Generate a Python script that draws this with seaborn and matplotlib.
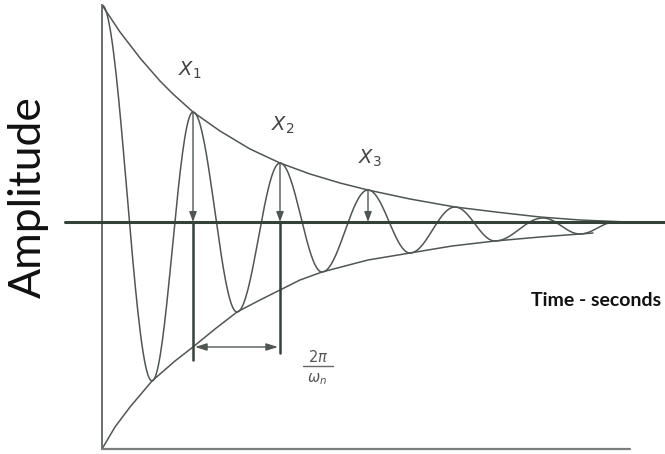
import matplotlib.pyplot as plt
import seaborn as sns
import numpy as np
import pandas as pd

# turning points of the damped oscillation
peak_t = [0, 50, 91, 135, 178, 220, 266, 308, 353, 393, 441, 478, 513]
peak_a = [217, -159, 110, -90, 59, -50, 32, -31, 15, -19, 4, -12, 0]

# upper and lower decay envelopes
upper_t = [0, 18, 38, 58, 71, 91, 118, 148, 178, 208, 238, 266, 308, 353, 398, 438, 478, 525]
upper_a = [217, 190, 164, 141, 128, 110, 91, 73, 59, 48, 39, 32, 23, 15, 9.5, 5, 2, 0]
lower_t = [0, 13, 28, 50, 73, 91, 113, 135, 158, 178, 198, 220, 243, 266, 308, 350, 393, 438, 478, 491]
lower_a = [-227, -205, -185, -159, -139, -125, -107, -90, -78, -68, -58, -50, -44, -38, -31, -24, -19, -15, -12, -11]

# peaks marked X1..X3 and the period between the first two
marked_t = [91, 178, 266]
marked_a = [110, 59, 32]
x_labels = ["$X_1$", "$X_2$", "$X_3$"]

sns.set_style("white")
plt.rcParams['font.family'] = ['Lato', 'DejaVu Sans']

CURVE = '#4f5752'
DARK = '#34423a'

fig = plt.figure(figsize=(6.65, 4.54), dpi=100)
ax = fig.add_axes([0, 0, 1, 1])
ax.set_xlim(-102, 563)
ax.set_ylim(-232, 222)
ax.axis('off')

# oscillation: half a cosine between consecutive turning points
rows = []
for i in range(len(peak_t) - 1):
    s = np.linspace(0, 1, 40)
    a0, a1 = peak_a[i], peak_a[i + 1]
    rows.append(pd.DataFrame({
        't': peak_t[i] + (peak_t[i + 1] - peak_t[i]) * s,
        'a': (a0 + a1) / 2 + (a0 - a1) / 2 * np.cos(np.pi * s),
    }))
wave = pd.concat(rows, ignore_index=True)
sns.lineplot(data=wave, x='t', y='a', sort=False, estimator=None, color=CURVE, lw=1.1, ax=ax)

env_up = pd.DataFrame({'t': upper_t, 'a': upper_a})
env_lo = pd.DataFrame({'t': lower_t, 'a': lower_a})
sns.lineplot(data=env_up, x='t', y='a', sort=False, estimator=None, color=CURVE, lw=1.1, ax=ax)
sns.lineplot(data=env_lo, x='t', y='a', sort=False, estimator=None, color=CURVE, lw=1.1, ax=ax)

# axes of the sketch
ax.plot([0, 0], [upper_a[0], lower_a[0]], color='#6a6f6c', lw=1.4)
ax.plot([0, 528], [lower_a[0], lower_a[0]], color='#7a7f7c', lw=1.6)
ax.plot([-37, 563], [0, 0], color=DARK, lw=2.2)

# arrows from the marked peaks down to the zero line
for t, a in zip(marked_t, marked_a):
    ax.annotate('', xy=(t, 0), xytext=(t, a),
                arrowprops=dict(arrowstyle='-|>,head_length=0.6,head_width=0.22',
                                color=CURVE, lw=1.0, shrinkA=0, shrinkB=0))
ax.plot([marked_t[0]] * 2, [0, -138], color=DARK, lw=1.8)
ax.plot([marked_t[1]] * 2, [0, -131], color=DARK, lw=1.8)
ax.annotate('', xy=(marked_t[0] + 2, -125), xytext=(marked_t[1] - 2, -125),
            arrowprops=dict(arrowstyle='<|-|>,head_length=0.7,head_width=0.22',
                            color=CURVE, lw=1.0, shrinkA=0, shrinkB=0))

# labels
for (t, a), lab in zip([(88, 152), (181, 97), (268, 64)], x_labels):
    ax.text(t, a, lab, fontsize=14, color='#444444', ha='center', va='center',
            family='DejaVu Sans')
ax.text(216, -135, r'$2\pi$', fontsize=10.5, color='#555555', ha='center', va='center')
ax.plot([201, 231], [-144, -144], color='#666666', lw=1.0)
ax.text(215, -157, r'$\omega_n$', fontsize=10.5, color='#555555', ha='center', va='center')

ax.text(-74, 25, 'Amplitude', rotation=90, fontsize=32, color='#111111',
        ha='center', va='center')
ax.text(494, -78, 'Time - seconds', fontsize=14, fontweight='bold', color='#111111',
        ha='center', va='center')

fig.savefig('out.png', dpi=100, facecolor='white')
